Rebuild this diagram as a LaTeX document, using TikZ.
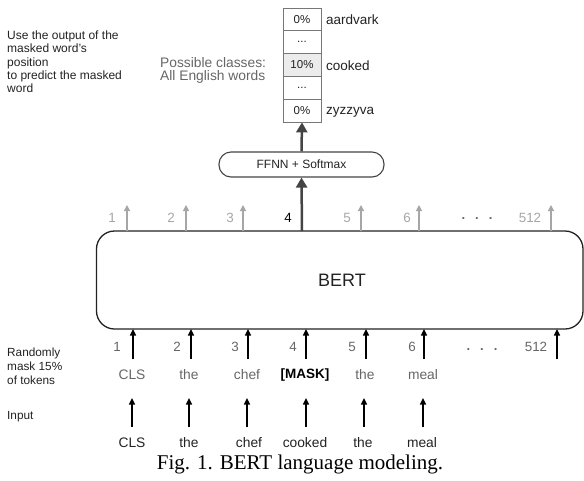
\documentclass[tikz,border=0pt]{standalone}
\usepackage{fontspec}
\setmainfont{Liberation Sans}
\newfontfamily\capfont{Liberation Serif}
\usetikzlibrary{arrows.meta}
\definecolor{lgray}{HTML}{A6A6A6}
\definecolor{mgray}{HTML}{666666}
\definecolor{dgray}{HTML}{444444}
\definecolor{boxgray}{HTML}{777777}
\definecolor{fillgray}{HTML}{ECECEC}
\definecolor{txt}{HTML}{222222}
\tikzset{
  lbl/.style={inner sep=0pt, text=txt, font=\fontsize{12}{13.4}\selectfont, align=left},
  num/.style={inner sep=0pt, font=\fontsize{13.4}{15}\selectfont},
  tok/.style={inner sep=0pt, font=\fontsize{13.8}{15}\selectfont},
  grayarrow/.style={draw=lgray, line width=1.2pt, -{Triangle[length=6pt,width=6pt]}},
  blackarrow/.style={draw=black, line width=1.5pt, -{Triangle[length=6.5pt,width=6pt]}},
  bigarrow/.style={draw=dgray, line width=2.5pt, -{Triangle[length=10pt,width=11pt]}},
  cell/.style={draw=boxgray, line width=0.8pt, minimum width=38pt, minimum height=22.8pt, inner sep=0pt, font=\fontsize{11.5}{13}\selectfont, text=txt},
  word/.style={inner sep=0pt, anchor=west, text=txt, font=\fontsize{13.5}{15}\selectfont},
  bertbox/.style={draw=txt, line width=1.3pt, rounded corners=18pt, minimum width=486.5pt, minimum height=98pt, inner sep=0pt},
  ffnnbox/.style={draw=dgray, line width=1.1pt, rounded corners=12pt, minimum width=165pt, minimum height=25pt, inner sep=0pt, font=\fontsize{12}{14}\selectfont, text=txt}
}
\begin{document}
\begin{tikzpicture}[x=1pt, y=-1pt]
\useasboundingbox (0,0) rectangle (584,480);
% left labels
\node[lbl, anchor=north west] (useout) at (7,30.5) {Use the output of the\\masked word's\\position\\to predict the masked\\word};
\node[lbl, anchor=north west, text=mgray, font=\fontsize{13.8}{13.2}\selectfont] (classes) at (160,57.5) {Possible classes:\\All English words};
\node[lbl, anchor=north west, font=\fontsize{11.8}{14}\selectfont] (rmask) at (7,347.5) {Randomly\\mask 15\%\\of tokens};
\node[lbl, anchor=west, font=\fontsize{11.8}{14}\selectfont] (inlbl) at (7,417) {Input};
% output stack
\node[cell] (s1) at (302,19.4) {0\%};
\node[cell] (s2) at (302,42.2) {...};
\node[cell, fill=fillgray] (s3) at (302,65) {10\%};
\node[cell] (s4) at (302,87.8) {...};
\node[cell] (s5) at (302,110.6) {0\%};
\node[word] (w1) at (326,20) {aardvark};
\node[word] (w3) at (326,66) {cooked};
\node[word] (w5) at (326,112) {zyzzyva};
% FFNN
\node[ffnnbox] (ffnn) at (301.5,164.5) {FFNN + Softmax};
% BERT
\node[bertbox] (bert) at (339.75,280) {};
\node[inner sep=0pt, font=\fontsize{18}{20}\selectfont, text=txt] (bertlbl) at (342,280) {BERT};
% top outputs
\foreach \x/\lx/\t [count=\i] in {127/112/1, 186/171/2, 243/230/3, 361/347/5, 419/407/6, 551/530/512} {
  \coordinate (tb\i) at (\x,231);
  \coordinate (tt\i) at (\x,205);
  \draw[grayarrow] (tb\i) -- (tt\i);
  \node[num, text=lgray] (tn\i) at (\lx,218) {\t};
}
\node[num, text=black] (tn4) at (288,218) {4};
\node[num, text=mgray, font=\bfseries\fontsize{13}{15}\selectfont] (tdots) at (477,219) {.\hspace{10pt}.\hspace{10pt}.};
\coordinate (t4) at (302,231);
\draw[bigarrow] (t4) -- (ffnn.south);
\draw[bigarrow] (ffnn.north) -- (s5.south);
% bottom inputs into BERT
\foreach \x/\lx/\t [count=\i] in {133/117/1, 191/177/2, 248/235/3, 306/293/4, 366/352/5, 424/412/6, 557/536/512} {
  \coordinate (bb\i) at (\x,359);
  \coordinate (bt\i) at (\x,329);
  \draw[blackarrow] (bb\i) -- (bt\i);
  \node[num, text=mgray] (bn\i) at (\lx,347) {\t};
}
\node[num, text=mgray, font=\bfseries\fontsize{13}{15}\selectfont] (bdots) at (482,350) {.\hspace{10pt}.\hspace{10pt}.};
% masked tokens
\foreach \x/\t [count=\i] in {132/CLS, 189/the, 247/chef, 365/the, 423/meal} {
  \node[tok, text=mgray] (k\i) at (\x,375) {\t};
}
\node[tok, text=black, font=\bfseries\fontsize{13.5}{15}\selectfont] (kmask) at (305,375) {[MASK]};
% input arrows
\foreach \x [count=\i] in {132,189,247,306,364,423} {
  \coordinate (ia\i) at (\x,427);
  \coordinate (ib\i) at (\x,398);
  \draw[blackarrow] (ia\i) -- (ib\i);
}
% input words
\foreach \x/\t [count=\i] in {132/CLS, 189/the, 249/chef, 305/cooked, 363/the, 422/meal} {
  \node[tok, text=txt] (in\i) at (\x,443) {\t};
}
% caption
\node[inner sep=0pt, font=\capfont\fontsize{21}{23}\selectfont] (caption) at (300,464) {Fig. 1. BERT language modeling.};
\end{tikzpicture}
\end{document}
